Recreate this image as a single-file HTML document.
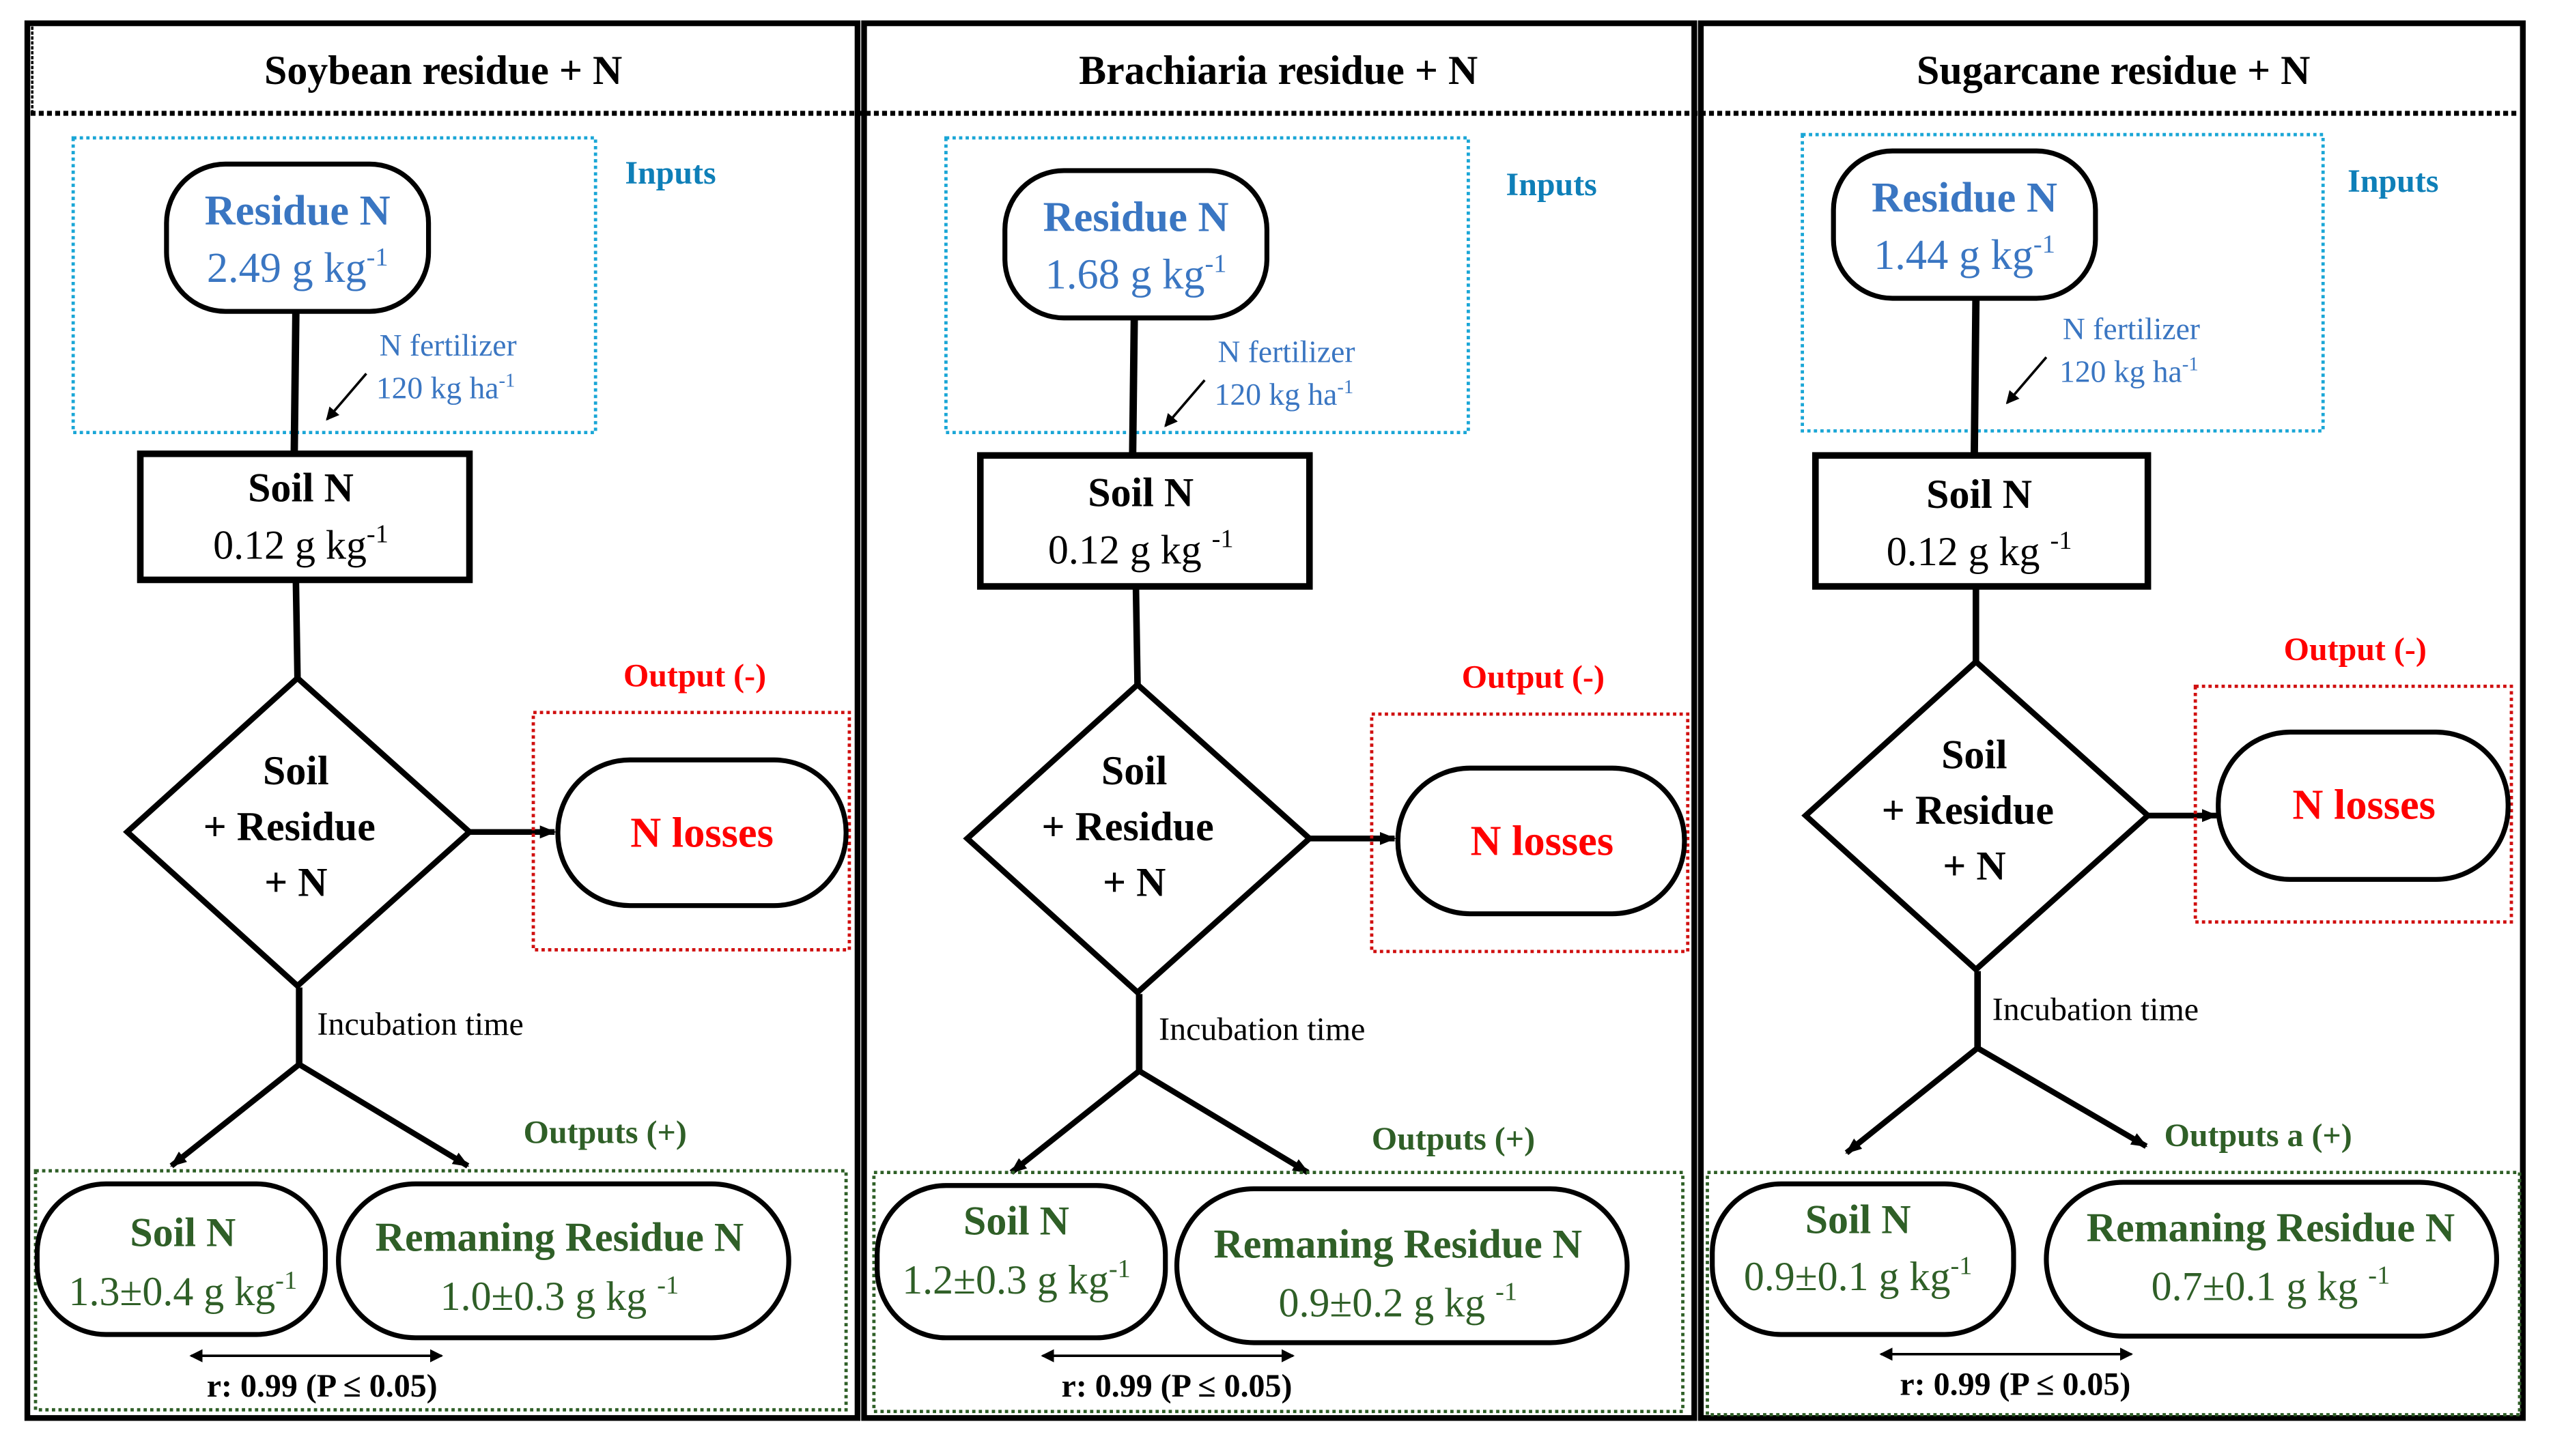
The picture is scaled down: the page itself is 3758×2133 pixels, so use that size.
<!DOCTYPE html>
<html><head><meta charset="utf-8"><style>
html,body{margin:0;padding:0;background:#fff}
svg{display:block}
text{font-family:"Liberation Serif","DejaVu Serif",serif}
.b{font-weight:bold}
</style></head><body>
<svg width="3758" height="2133" viewBox="0 0 1560 885" xmlns="http://www.w3.org/2000/svg">
<defs>
<marker id="ah" markerWidth="8" markerHeight="8" refX="7" refY="4" orient="auto-start-reverse" markerUnits="userSpaceOnUse"><path d="M0,0 L8,4 L0,8 z" fill="#000"/></marker>
<marker id="ahs" markerWidth="10" markerHeight="10" refX="9" refY="5" orient="auto-start-reverse" markerUnits="userSpaceOnUse"><path d="M0,1 L10,5 L0,9 z" fill="#000"/></marker>
</defs>
<g transform="translate(-1.3,0) scale(0.9955)">
<rect x="18" y="14" width="507" height="852" fill="none" stroke="#000" stroke-width="3.5"/>
<rect x="529" y="14" width="507" height="852" fill="none" stroke="#000" stroke-width="3.5"/>
<rect x="1040" y="14" width="502" height="852" fill="none" stroke="#000" stroke-width="3.5"/>
<line x1="20" y1="69" x2="1540" y2="69" stroke="#000" stroke-width="3" stroke-dasharray="3,2"/>
<line x1="21" y1="16" x2="21" y2="69" stroke="#000" stroke-width="1.5" stroke-dasharray="2,1"/>
<text x="272" y="51" font-size="25" class="b" text-anchor="middle">Soybean residue + N</text>
<text x="782" y="51" font-size="25" class="b" text-anchor="middle">Brachiaria residue  + N</text>
<text x="1292" y="51" font-size="25" class="b" text-anchor="middle">Sugarcane residue  + N</text>

<g>
<rect x="46" y="84" width="319" height="180" fill="none" stroke="#1aa6d6" stroke-width="2" stroke-dasharray="2,2"/>
<text x="383" y="112" font-size="20" class="b" fill="#0e7fb8">Inputs</text>
<rect x="103" y="100" width="160" height="90" rx="36" fill="#fff" stroke="#000" stroke-width="3"/>
<text x="183" y="137" font-size="26" class="b" fill="#3a76c2" text-anchor="middle">Residue N</text>
<text x="183" y="172" font-size="26" fill="#3a76c2" text-anchor="middle">2.49 g kg<tspan font-size="16" dy="-10">-1</tspan></text>
<line x1="182" y1="190" x2="181" y2="276" stroke="#000" stroke-width="4.5"/>
<text x="233" y="217" font-size="19" fill="#3a76c2">N fertilizer</text>
<text x="231" y="243" font-size="19" fill="#3a76c2">120 kg ha<tspan font-size="12" dy="-7">-1</tspan></text>
<line x1="225" y1="228" x2="201" y2="256" stroke="#000" stroke-width="1.5" marker-end="url(#ah)"/>
<rect x="87" y="277" width="201" height="77" fill="#fff" stroke="#000" stroke-width="4"/>
<text x="185" y="306" font-size="25" class="b" text-anchor="middle">Soil N</text>
<text x="185" y="341" font-size="25" text-anchor="middle">0.12 g kg<tspan font-size="16" dy="-10">-1</tspan></text>
<line x1="182" y1="354" x2="183" y2="414" stroke="#000" stroke-width="4"/>
<polygon points="183,414 288,508 183,602 79,508" fill="#fff" stroke="#000" stroke-width="3.5"/>
<text x="182" y="479" font-size="25" class="b" text-anchor="middle">Soil</text>
<text x="178" y="513" font-size="25" class="b" text-anchor="middle">+ Residue</text>
<text x="182" y="547" font-size="25" class="b" text-anchor="middle">+ N</text>
<line x1="288" y1="508" x2="340" y2="508" stroke="#000" stroke-width="3.5" marker-end="url(#ahs)"/>
<rect x="327" y="435" width="193" height="145" fill="none" stroke="#d01010" stroke-width="2" stroke-dasharray="2,2"/>
<text x="382" y="419" font-size="20" class="b" fill="#f00">Output (-)</text>
<rect x="342" y="464" width="176" height="89" rx="44" fill="#fff" stroke="#000" stroke-width="3"/>
<text x="430" y="517" font-size="26" class="b" fill="#f00" text-anchor="middle">N losses</text>
<polyline points="184,603 184,650" fill="none" stroke="#000" stroke-width="4"/>
<line x1="184" y1="650" x2="106" y2="712" stroke="#000" stroke-width="3.5" marker-end="url(#ahs)"/>
<line x1="184" y1="650" x2="287" y2="712" stroke="#000" stroke-width="3.5" marker-end="url(#ahs)"/>
<text x="195" y="632" font-size="20">Incubation time</text>
<text x="321" y="698" font-size="20" class="b" fill="#2f5f27">Outputs (+)</text>
<rect x="23" y="715" width="495" height="146" fill="none" stroke="#2f5f27" stroke-width="2" stroke-dasharray="2,2"/>
<rect x="24" y="723" width="176" height="92" rx="42" fill="#fff" stroke="#000" stroke-width="3"/>
<text x="113" y="761" font-size="25" class="b" fill="#2f5f27" text-anchor="middle">Soil N</text>
<text x="113" y="797" font-size="25" fill="#2f5f27" text-anchor="middle">1.3±0.4 g kg<tspan font-size="16" dy="-10">-1</tspan></text>
<rect x="208" y="723" width="275" height="94" rx="47" fill="#fff" stroke="#000" stroke-width="3"/>
<text x="343" y="764" font-size="25" class="b" fill="#2f5f27" text-anchor="middle">Remaning Residue N</text>
<text x="343" y="800" font-size="25" fill="#2f5f27" text-anchor="middle">1.0±0.3 g kg <tspan font-size="16" dy="-10">-1</tspan></text>
<line x1="118" y1="828" x2="271" y2="828" stroke="#000" stroke-width="1.5" marker-start="url(#ah)" marker-end="url(#ah)"/>
<text x="198" y="853" font-size="20" class="b" text-anchor="middle">r: 0.99 (P ≤ 0.05)</text>
</g>

<rect x="579" y="84" width="319" height="180" fill="none" stroke="#1aa6d6" stroke-width="2" stroke-dasharray="2,2"/>
<text x="921" y="119" font-size="20" class="b" fill="#0e7fb8">Inputs</text>
<g transform="translate(512,4)">
<rect x="103" y="100" width="160" height="90" rx="36" fill="#fff" stroke="#000" stroke-width="3"/>
<text x="183" y="137" font-size="26" class="b" fill="#3a76c2" text-anchor="middle">Residue N</text>
<text x="183" y="172" font-size="26" fill="#3a76c2" text-anchor="middle">1.68 g kg<tspan font-size="16" dy="-10">-1</tspan></text>
<line x1="182" y1="190" x2="181" y2="274" stroke="#000" stroke-width="4.5"/>
<text x="233" y="217" font-size="19" fill="#3a76c2">N fertilizer</text>
<text x="231" y="243" font-size="19" fill="#3a76c2">120 kg ha<tspan font-size="12" dy="-7">-1</tspan></text>
<line x1="225" y1="228" x2="201" y2="256" stroke="#000" stroke-width="1.5" marker-end="url(#ah)"/>
<rect x="88" y="274" width="201" height="80" fill="#fff" stroke="#000" stroke-width="4"/>
<text x="186" y="305" font-size="25" class="b" text-anchor="middle">Soil N</text>
<text x="186" y="340" font-size="25" text-anchor="middle">0.12 g kg <tspan font-size="16" dy="-10">-1</tspan></text>
<line x1="183" y1="354" x2="184" y2="414" stroke="#000" stroke-width="4"/>
<polygon points="184,414 289,508 184,602 80,508" fill="#fff" stroke="#000" stroke-width="3.5"/>
<text x="182" y="475" font-size="25" class="b" text-anchor="middle">Soil</text>
<text x="178" y="509" font-size="25" class="b" text-anchor="middle">+ Residue</text>
<text x="182" y="543" font-size="25" class="b" text-anchor="middle">+ N</text>
<line x1="289" y1="508" x2="341" y2="508" stroke="#000" stroke-width="3.5" marker-end="url(#ahs)"/>
<rect x="327" y="432" width="193" height="145" fill="none" stroke="#d01010" stroke-width="2" stroke-dasharray="2,2"/>
<text x="382" y="416" font-size="20" class="b" fill="#f00">Output (-)</text>
<rect x="343" y="465" width="175" height="89" rx="44" fill="#fff" stroke="#000" stroke-width="3"/>
<text x="431" y="518" font-size="26" class="b" fill="#f00" text-anchor="middle">N losses</text>
<polyline points="185,603 185,650" fill="none" stroke="#000" stroke-width="4"/>
<line x1="185" y1="650" x2="107" y2="712" stroke="#000" stroke-width="3.5" marker-end="url(#ahs)"/>
<line x1="185" y1="650" x2="288" y2="712" stroke="#000" stroke-width="3.5" marker-end="url(#ahs)"/>
<text x="197" y="631" font-size="20">Incubation time</text>
<text x="327" y="698" font-size="20" class="b" fill="#2f5f27">Outputs (+)</text>
</g>
<rect x="535" y="716" width="494" height="146" fill="none" stroke="#2f5f27" stroke-width="2" stroke-dasharray="2,2"/>
<rect x="537" y="724" width="176" height="93" rx="42" fill="#fff" stroke="#000" stroke-width="3"/>
<text x="622" y="754" font-size="25" class="b" fill="#2f5f27" text-anchor="middle">Soil N</text>
<text x="622" y="790" font-size="25" fill="#2f5f27" text-anchor="middle">1.2±0.3 g kg<tspan font-size="16" dy="-10">-1</tspan></text>
<rect x="720" y="726" width="275" height="94" rx="47" fill="#fff" stroke="#000" stroke-width="3"/>
<text x="855" y="768" font-size="25" class="b" fill="#2f5f27" text-anchor="middle">Remaning Residue N</text>
<text x="855" y="804" font-size="25" fill="#2f5f27" text-anchor="middle">0.9±0.2 g kg <tspan font-size="16" dy="-10">-1</tspan></text>
<line x1="638" y1="828" x2="791" y2="828" stroke="#000" stroke-width="1.5" marker-start="url(#ah)" marker-end="url(#ah)"/>
<text x="720" y="853" font-size="20" class="b" text-anchor="middle">r: 0.99 (P ≤ 0.05)</text>

<rect x="1102" y="82" width="318" height="181" fill="none" stroke="#1aa6d6" stroke-width="2" stroke-dasharray="2,2"/>
<text x="1435" y="117" font-size="20" class="b" fill="#0e7fb8">Inputs</text>
<g transform="translate(1018,-8)">
<rect x="103" y="100" width="160" height="90" rx="36" fill="#fff" stroke="#000" stroke-width="3"/>
<text x="183" y="137" font-size="26" class="b" fill="#3a76c2" text-anchor="middle">Residue N</text>
<text x="183" y="172" font-size="26" fill="#3a76c2" text-anchor="middle">1.44 g kg<tspan font-size="16" dy="-10">-1</tspan></text>
<line x1="190" y1="190" x2="189" y2="286" stroke="#000" stroke-width="4.5"/>
<text x="243" y="215" font-size="19" fill="#3a76c2">N fertilizer</text>
<text x="241" y="241" font-size="19" fill="#3a76c2">120 kg ha<tspan font-size="12" dy="-7">-1</tspan></text>
<line x1="233" y1="226" x2="209" y2="254" stroke="#000" stroke-width="1.5" marker-end="url(#ah)"/>
</g>
<rect x="1110" y="278" width="203" height="80" fill="#fff" stroke="#000" stroke-width="4"/>
<text x="1210" y="310" font-size="25" class="b" text-anchor="middle">Soil N</text>
<text x="1210" y="345" font-size="25" text-anchor="middle">0.12 g kg <tspan font-size="16" dy="-10">-1</tspan></text>
<g transform="translate(1025,-10)">
<line x1="183" y1="368" x2="183" y2="414" stroke="#000" stroke-width="4"/>
<polygon points="183,414 288,508 183,602 79,508" fill="#fff" stroke="#000" stroke-width="3.5"/>
<text x="182" y="479" font-size="25" class="b" text-anchor="middle">Soil</text>
<text x="178" y="513" font-size="25" class="b" text-anchor="middle">+ Residue</text>
<text x="182" y="547" font-size="25" class="b" text-anchor="middle">+ N</text>
<line x1="288" y1="508" x2="330" y2="508" stroke="#000" stroke-width="3.5" marker-end="url(#ahs)"/>
<text x="193" y="633" font-size="20">Incubation time</text>
<polyline points="184,603 184,650" fill="none" stroke="#000" stroke-width="4"/>
<line x1="184" y1="650" x2="104" y2="714" stroke="#000" stroke-width="3.5" marker-end="url(#ahs)"/>
<line x1="184" y1="650" x2="287" y2="710" stroke="#000" stroke-width="3.5" marker-end="url(#ahs)"/>
</g>
<rect x="1342" y="419" width="193" height="144" fill="none" stroke="#d01010" stroke-width="2" stroke-dasharray="2,2"/>
<text x="1396" y="403" font-size="20" class="b" fill="#f00">Output (-)</text>
<rect x="1356" y="447" width="177" height="90" rx="44" fill="#fff" stroke="#000" stroke-width="3"/>
<text x="1445" y="500" font-size="26" class="b" fill="#f00" text-anchor="middle">N losses</text>
<text x="1323" y="700" font-size="20" class="b" fill="#2f5f27">Outputs a (+)</text>
<rect x="1044" y="716" width="496" height="148" fill="none" stroke="#2f5f27" stroke-width="2" stroke-dasharray="2,2"/>
<rect x="1047" y="723" width="184" height="92" rx="42" fill="#fff" stroke="#000" stroke-width="3"/>
<text x="1136" y="753" font-size="25" class="b" fill="#2f5f27" text-anchor="middle">Soil N</text>
<text x="1136" y="788" font-size="25" fill="#2f5f27" text-anchor="middle">0.9±0.1 g kg<tspan font-size="16" dy="-10">-1</tspan></text>
<rect x="1251" y="722" width="275" height="94" rx="47" fill="#fff" stroke="#000" stroke-width="3"/>
<text x="1388" y="758" font-size="25" class="b" fill="#2f5f27" text-anchor="middle">Remaning Residue N</text>
<text x="1388" y="794" font-size="25" fill="#2f5f27" text-anchor="middle">0.7±0.1 g kg <tspan font-size="16" dy="-10">-1</tspan></text>
<line x1="1150" y1="827" x2="1303" y2="827" stroke="#000" stroke-width="1.5" marker-start="url(#ah)" marker-end="url(#ah)"/>
<text x="1232" y="852" font-size="20" class="b" text-anchor="middle">r: 0.99 (P ≤ 0.05)</text>
</g>
</svg>
</body></html>
